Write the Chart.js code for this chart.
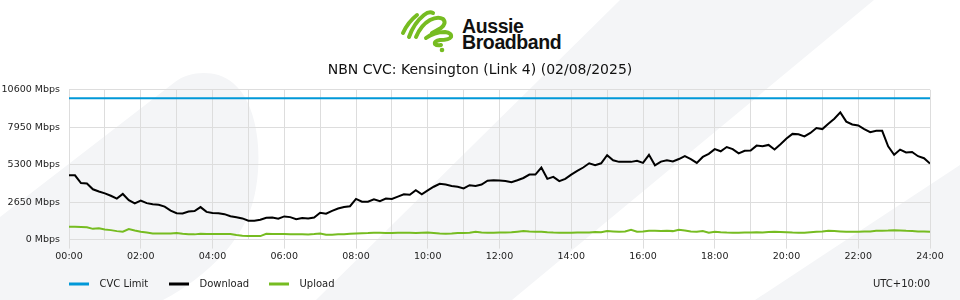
<!DOCTYPE html>
<html lang="en">
  <head>
    <meta charset="UTF-8" />
    <title>NBN CVC: Kensington (Link 4)</title>
    <script src="https://cdn.jsdelivr.net/npm/chart.js"></script>
    <style>
      body { margin: 0; background: #fff; }
      #wrap { position: relative; width: 960px; height: 300px; overflow: hidden; }
      #bg, #myChart { position: absolute; left: 0; top: 0; }
    </style>
  </head>
  <body>
    <div id="wrap">
      <svg id="bg" width="960" height="300" viewBox="0 0 960 300">
        <g fill="#f4f5f7">
          <path d="M0,217 L175,82 C190,71 216,69 233,83 C262,107 263,170 252,205 C240,245 203,279 163,300 L0,300 Z" />
          <path d="M620,0 L874,0 L512,300 L316,300 Z" />
          <path d="M755,300 L960,165 L960,300 Z" />
        </g>
        <g fill="none" stroke="#76bc21" stroke-width="4" stroke-linecap="round" stroke-linejoin="round">
          <path d="M403,33 Q408,22 417,15" />
          <path d="M409,37 Q414,23 424,15 Q429,11 433,13" />
          <path d="M416,37 Q421,25 430,20 Q438,16 443,19 Q447,23 441,28 Q436,31 432,33" />
          <path d="M426,38 Q434,32 445,32 Q452,33 451,37 Q449,40 440,40 Q434,41 435,44 Q437,46 441,45" />
        </g>
        <circle cx="442" cy="50" r="2.3" fill="#76bc21" />
        <g font-family="Liberation Sans, Arial, sans-serif" font-weight="bold" font-size="19.5" letter-spacing="-0.4" fill="#111">
          <text x="462" y="33">Aussie</text>
          <text x="462" y="48.5">Broadband</text>
        </g>
      </svg>
      <canvas id="myChart" width="960" height="300"></canvas>
    </div>
    <script>
      // 10 minute samples, 00:00 -> 24:00
      const download = [
        4560, 4550, 4000, 3970, 3560, 3400,
        3270, 3100, 2900, 3230, 2790, 2560,
        2760, 2580, 2500, 2470, 2330, 2050,
        1870, 1850, 1990, 2020, 2300, 1960,
        1890, 1870, 1800, 1650, 1580, 1500,
        1340, 1340, 1400, 1550, 1560, 1480,
        1640, 1590, 1450, 1530, 1500, 1560,
        1900, 1830, 2030, 2200, 2300, 2360,
        2880, 2680, 2680, 2850, 2720, 2900,
        2880, 3040, 3200, 3170, 3500, 3200,
        3480, 3740, 3950, 3900, 3800, 3740,
        3620, 3850, 3800, 3900, 4170, 4200,
        4190, 4150, 4060, 4200, 4360, 4600,
        4600, 5100, 4300, 4440, 4140, 4300,
        4600, 4860, 5100, 5400, 5260, 5400,
        5970, 5610, 5500, 5500, 5500, 5580,
        5430, 6000, 5260, 5520, 5620, 5530,
        5700, 5900, 5700, 5430, 5850, 6070,
        6400, 6250, 6550, 6400, 6100, 6280,
        6300, 6650, 6600, 6700, 6380, 6750,
        7150, 7480, 7450, 7300, 7550, 7900,
        7820, 8200, 8550, 9000, 8350, 8150,
        8080, 7820, 7600, 7700, 7700, 6600,
        6000, 6370, 6170, 6200, 5900, 5760,
        5380
      ];
      const upload = [
        905, 905, 890, 870, 760, 800,
        720, 670, 600, 560, 740, 640,
        560, 500, 440, 440, 430, 440,
        470, 420, 380, 370, 420, 400,
        400, 390, 400, 390, 330, 280,
        260, 250, 250, 410, 400, 390,
        390, 380, 370, 380, 360, 390,
        430, 350, 340, 370, 380, 420,
        440, 450, 460, 480, 480, 470,
        470, 480, 490, 480, 470, 490,
        500, 470, 430, 420, 440, 470,
        460, 490, 550, 500, 480, 490,
        510, 500, 520, 560, 600, 570,
        550, 560, 520, 500, 490, 480,
        490, 500, 510, 500, 540, 520,
        600, 580, 560, 580, 690, 560,
        570, 620, 620, 600, 620, 600,
        690, 640, 580, 550, 600, 490,
        550, 520, 500, 490, 480, 500,
        510, 520, 500, 540, 560, 540,
        520, 500, 490, 480, 520, 560,
        580, 620, 600, 580, 560, 550,
        560, 570, 580, 620, 630, 640,
        670, 650, 620, 600, 580, 570,
        553
      ];
      const cvcLimit = 10000;
      const yTicks = [0, 2650, 5300, 7950, 10600];
      const xTickLabels = ['00:00', '02:00', '04:00', '06:00', '08:00', '10:00', '12:00',
        '14:00', '16:00', '18:00', '20:00', '22:00', '24:00'];
      const samplesPerHour = 6;
      const lastSample = download.length - 1;

      const gridColor = '#dddddd';

      Chart.defaults.font.family = "'DejaVu Sans', sans-serif";
      Chart.defaults.font.size = 9.5;
      Chart.defaults.color = '#222';

      const bottomLegend = {
        id: 'bottomLegend',
        afterDraw(chart) {
          const { ctx, chartArea } = chart;
          const y = chart.height - 16;
          ctx.save();
          ctx.font = "10px 'DejaVu Sans', sans-serif";
          ctx.textBaseline = 'middle';
          chart.data.datasets.forEach((ds, i) => {
            const x = chartArea.left + i * 100;
            ctx.fillStyle = ds.borderColor;
            ctx.fillRect(x, y - 1.5, 20, 3);
            ctx.fillStyle = '#222';
            ctx.textAlign = 'left';
            ctx.fillText(ds.label, x + 30.5, y);
          });
          ctx.textAlign = 'right';
          ctx.fillText('UTC+10:00', chartArea.right, y);
          ctx.restore();
        }
      };

      const ctx = document.getElementById('myChart').getContext('2d');
      const myChart = new Chart(ctx, {
        type: 'line',
        data: {
          labels: download.map((_, i) => i),
          datasets: [
            {
              label: 'CVC Limit',
              data: [{ x: 0, y: cvcLimit }, { x: lastSample, y: cvcLimit }],
              borderColor: '#0098d8',
              borderWidth: 2
            },
            {
              label: 'Download',
              data: download,
              borderColor: '#000000',
              borderWidth: 2
            },
            {
              label: 'Upload',
              data: upload,
              borderColor: '#76bc21',
              borderWidth: 2
            }
          ]
        },
        options: {
          responsive: false,
          animation: false,
          devicePixelRatio: 1,
          elements: { point: { radius: 0 }, line: { tension: 0, fill: false } },
          layout: { padding: { left: 0, right: 0, top: 0, bottom: 36 } },
          plugins: {
            legend: { display: false },
            tooltip: { enabled: false },
            title: {
              display: true,
              text: 'NBN CVC: Kensington (Link 4) (02/08/2025)',
              font: { size: 14, weight: 'normal' },
              color: '#111',
              padding: { top: 62, bottom: 11 }
            }
          },
          scales: {
            x: {
              type: 'linear',
              min: 0,
              max: lastSample,
              afterBuildTicks: s => {
                s.ticks = [];
                for (let h = 0; h <= 24; h++) s.ticks.push({ value: h * samplesPerHour });
              },
              ticks: {
                autoSkip: false,
                maxRotation: 0,
                padding: 2,
                callback: v => (v % (2 * samplesPerHour) === 0 ? xTickLabels[v / (2 * samplesPerHour)] : '')
              },
              grid: {
                color: gridColor,
                tickLength: 9,
                tickColor: c => (c.tick && c.tick.value % (2 * samplesPerHour) === 0 ? gridColor : 'rgba(0,0,0,0)')
              },
              border: { color: gridColor }
            },
            y: {
              min: 0,
              max: 10600,
              afterBuildTicks: s => { s.ticks = yTicks.map(v => ({ value: v })); },
              afterFit: s => { s.width = 69; },
              ticks: {
                padding: 9,
                callback: v => v + ' Mbps'
              },
              grid: { color: gridColor, drawTicks: false },
              border: { color: gridColor }
            },
            // empty right-hand axis, only keeps a 30px margin right of the plot
            yRight: {
              position: 'right',
              min: 0,
              max: 10600,
              afterFit: s => { s.width = 30; },
              ticks: { display: false },
              grid: { display: false },
              border: { display: false }
            }
          }
        },
        plugins: [bottomLegend]
      });
    </script>
  </body>
</html>
